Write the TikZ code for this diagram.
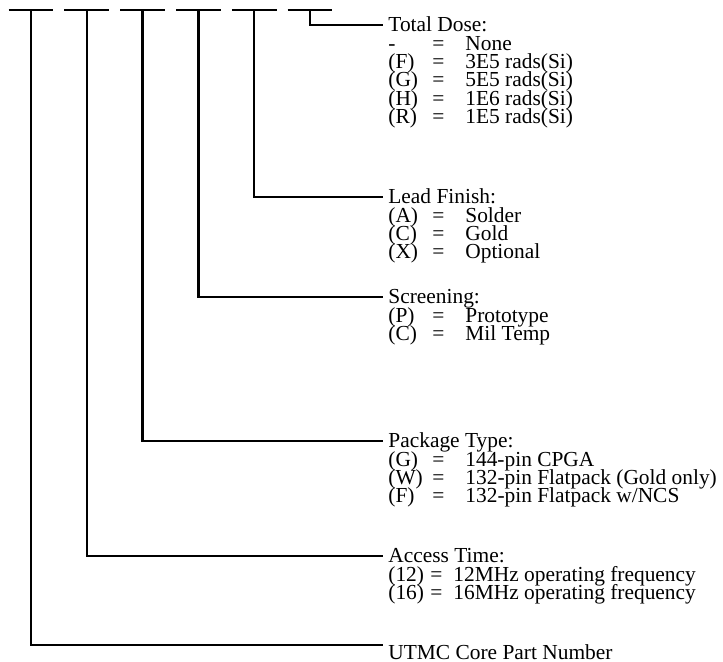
\documentclass[tikz,border=0pt]{standalone}
\usepackage{fontspec}
\setmainfont{Liberation Serif}
\usetikzlibrary{positioning}
\lineskiplimit=-\maxdimen
\newcommand{\optrow}[2]{\makebox[22pt][l]{#1}\makebox[16.5pt][l]{=}#2}
\newcommand{\freqrow}[2]{\makebox[21pt][l]{#1}\makebox[11.5pt][l]{=}#2}

\begin{document}
\begin{tikzpicture}[
    x=0.5pt, y=-0.5pt,
    node distance=5.5pt,
    field/.style={inner sep=0pt, minimum width=22pt, minimum height=0pt},
    desc/.style={anchor=north west, inner xsep=2.5pt, inner ysep=0pt, align=left, font=\fontsize{10.7}{9.15}\selectfont},
    lead/.style={line width=1.2pt},
]
\useasboundingbox (0,0) rectangle (723,662);

% Part number fields
\node[field] (f1) at (31,10) {};
\node[field, right=of f1] (f2) {};
\node[field, right=of f2] (f3) {};
\node[field, right=of f3] (f4) {};
\node[field, right=of f4] (f5) {};
\node[field, right=of f5] (f6) {};

\draw[lead] (f1.west) -- (f1.east);
\draw[lead] (f2.west) -- (f2.east);
\draw[lead] (f3.west) -- (f3.east);
\draw[lead] (f4.west) -- (f4.east);
\draw[lead] (f5.west) -- (f5.east);
\draw[lead] (f6.west) -- (f6.east);

% Descriptions
\node[desc] (dose) at (383,15.5) {\rule{0pt}{8pt}Total Dose:\\
    \optrow{-}{None}\\
    \optrow{(F)}{3E5 rads(Si)}\\
    \optrow{(G)}{5E5 rads(Si)}\\
    \optrow{(H)}{1E6 rads(Si)}\\
    \optrow{(R)}{1E5 rads(Si)}};
\node[desc] (finish) at (383,187.5) {\rule{0pt}{8pt}Lead Finish:\\
    \optrow{(A)}{Solder}\\
    \optrow{(C)}{Gold}\\
    \optrow{(X)}{Optional}};
\node[desc] (screen) at (383,287.5) {\rule{0pt}{8pt}Screening:\\
    \optrow{(P)}{Prototype}\\
    \optrow{(C)}{Mil Temp}};
\node[desc] (pkg) at (383,431.5) {\rule{0pt}{8pt}Package Type:\\
    \optrow{(G)}{144-pin CPGA}\\
    \optrow{(W)}{132-pin Flatpack (Gold only)}\\
    \optrow{(F)}{132-pin Flatpack w/NCS}};
\node[desc] (access) at (383,546.5) {\rule{0pt}{8pt}Access Time:\\
    \freqrow{(12)}{12MHz operating frequency}\\
    \freqrow{(16)}{16MHz operating frequency}};
\node[desc] (core) at (383,643) {\rule{0pt}{8pt}UTMC Core Part Number};

% Leads
\draw[lead] (f6.south) |- ([yshift=-4.75pt]dose.north west);
\draw[lead] (f5.south) |- ([yshift=-4.75pt]finish.north west);
\draw[lead] (f4.south) |- ([yshift=-4.75pt]screen.north west);
\draw[lead] (f3.south) |- ([yshift=-4.75pt]pkg.north west);
\draw[lead] (f2.south) |- ([yshift=-4.75pt]access.north west);
\draw[lead] (f1.south) |- ([yshift=-1pt]core.north west);

\end{tikzpicture}
\end{document}
